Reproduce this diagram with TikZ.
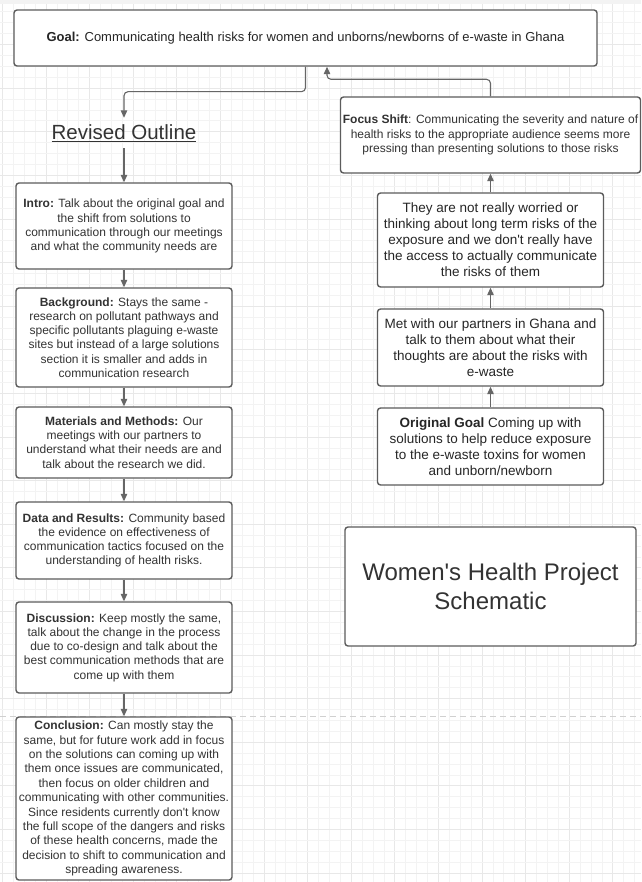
\documentclass[tikz,border=0pt]{standalone}
\usepackage{fontspec}
\setmainfont{Liberation Sans}
\usetikzlibrary{arrows.meta}
\definecolor{txt}{HTML}{333333}
\definecolor{txtd}{HTML}{262626}
\definecolor{bord}{HTML}{5C5C5C}
\definecolor{connc}{HTML}{666666}
\definecolor{gridmin}{HTML}{F3F3F3}
\definecolor{gridmaj}{HTML}{E8E8E8}
\definecolor{dashc}{HTML}{D0D0D0}
\tikzset{
 box/.style={draw=bord, line width=1.4pt, rounded corners=3pt, fill=white, align=center, inner sep=0pt, text=txt},
 lbox/.style={box, minimum width=216pt, font=\fontsize{12}{14.2}\selectfont},
 rbox/.style={box, minimum width=226pt, font=\fontsize{13.5}{16}\selectfont, text=txtd},
 link/.style={draw=connc, line width=1.1pt, rounded corners=4pt, -{Triangle[length=7.5pt,width=6.5pt]}},
}
\begin{document}
\begin{tikzpicture}[x=1pt,y=-1pt]
\useasboundingbox (0,0) rectangle (641,882);
\fill[white] (0,0) rectangle (641,882);
% grid
\foreach \i in {0,...,58} {
  \pgfmathsetmacro\gx{2.4+10.9*\i}
  \pgfmathtruncatemacro\m{mod(\i,4)}
  \ifnum\m=0 \def\gc{gridmaj}\else\def\gc{gridmin}\fi
  \draw[color=\gc, line width=0.8pt] (\gx,0) -- (\gx,882);
}
\foreach \i in {0,...,80} {
  \pgfmathsetmacro\gy{1+10.9*\i}
  \pgfmathtruncatemacro\m{mod(\i,4)}
  \ifnum\m=0 \def\gc{gridmaj}\else\def\gc{gridmin}\fi
  \draw[color=\gc, line width=0.8pt] (0,\gy) -- (641,\gy);
}
\fill[gridmin] (0,0) rectangle (641,4);
\draw[dashc, line width=1pt, dash pattern=on 6pt off 4pt] (0,716) -- (641,716);

% top goal
\node[box, minimum width=583pt, minimum height=56pt, font=\fontsize{13}{15}\selectfont, text=txtd] (goal) at (305.5,38)
 {\textbf{Goal:} Communicating health risks for women and unborns/newborns of e-waste in Ghana};

\node[font=\fontsize{20.5}{24}\selectfont, text=txt, minimum height=30pt, inner sep=0pt] (rev) at (124,133) {\underline{Revised Outline}};

% left column
\node[lbox, minimum height=86pt] (intro) at (124,226)
 {\textbf{Intro:} Talk about the original goal and\\ the shift from solutions to\\ communication through our meetings\\ and what the community needs are};
\node[lbox, minimum height=99pt] (back) at (124,337.5)
 {\textbf{Background:} Stays the same -\\ research on pollutant pathways and\\ specific pollutants plaguing e-waste\\ sites but instead of a large solutions\\ section it is smaller and adds in\\ communication research};
\node[lbox, minimum height=71pt] (mat) at (124,442.5)
 {\textbf{Materials and Methods:} Our\\ meetings with our partners to\\ understand what their needs are and\\ talk about the research we did.};
\node[lbox, minimum height=77pt] (data) at (124,540.5)
 {\textbf{Data and Results:} Community based\\ the evidence on effectiveness of\\ communication tactics focused on the\\ understanding of health risks.};
\node[lbox, minimum height=91pt] (disc) at (124,647.5)
 {\textbf{Discussion:} Keep mostly the same,\\ talk about the change in the process\\ due to co-design and talk about the\\ best communication methods that are\\ come up with them};
\node[lbox, minimum height=163pt, font=\fontsize{12}{14.4}\selectfont] (conc) at (124,798.5)
 {\textbf{Conclusion:} Can mostly stay the\\ same, but for future work add in focus\\ on the solutions can coming up with\\ them once issues are communicated,\\ then focus on older children and\\ communicating with other communities.\\ Since residents currently don\textquotesingle t know\\ the full scope of the dangers and risks\\ of these health concerns, made the\\ decision to shift to communication and\\ spreading awareness.};

% right column
\node[box, minimum width=300pt, minimum height=76pt, font=\fontsize{12}{14.3}\selectfont] (focus) at (490.5,135)
 {\textbf{Focus Shift}: Communicating the severity and nature of\\ health risks to the appropriate audience seems more\\ pressing than presenting solutions to those risks};
\node[rbox, minimum height=94pt] (they) at (490.5,240)
 {They are not really worried or\\ thinking about long term risks of the\\ exposure and we don\textquotesingle t really have\\ the access to actually communicate\\ the risks of them};
\node[rbox, minimum height=77pt] (met) at (490.5,347.5)
 {Met with our partners in Ghana and\\ talk to them about what their\\ thoughts are about the risks with\\ e-waste};
\node[rbox, minimum height=77pt] (orig) at (490.5,446.5)
 {\textbf{Original Goal} Coming up with\\ solutions to help reduce exposure\\ to the e-waste toxins for women\\ and unborn/newborn};
\node[box, minimum width=291pt, minimum height=119pt, font=\fontsize{24}{29}\selectfont, text=txt] (title) at (490.5,586.5)
 {Women\textquotesingle s Health Project\\ Schematic};

% connectors
\coordinate (gin) at (327,0);
\draw[link] (goal.south) -- ++(0,25) -| (rev.north);
\draw[link] (rev.south) -- (intro.north);
\draw[link] (intro.south) -- (back.north);
\draw[link] (back.south) -- (mat.north);
\draw[link] (mat.south) -- (data.north);
\draw[link] (data.south) -- (disc.north);
\draw[link] (disc.south) -- (conc.north);
\draw[link] (orig.north) -- (met.south);
\draw[link] (met.north) -- (they.south);
\draw[link] (they.north) -- (focus.south);
\draw[link] (focus.north) -- ++(0,-17) -| (goal.south -| gin);
\end{tikzpicture}
\end{document}
